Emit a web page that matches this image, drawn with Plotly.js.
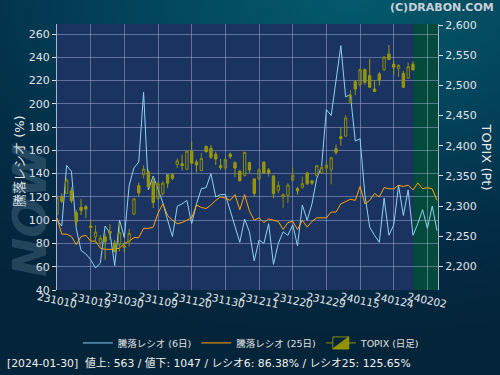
<!DOCTYPE html>
<html>
<head>
<meta charset="utf-8">
<script src="https://cdn.plot.ly/plotly-3.0.1.min.js"></script>
<style>
  html, body { margin: 0; padding: 0; }
  body { width: 500px; height: 375px; overflow: hidden;
    background: radial-gradient(ellipse 120% 90% at 70% 0%, #045a6c 0%, #03455c 35%, #032c46 70%, #04243a 100%); }
  #chart { width: 500px; height: 375px; }
</style>
</head>
<body>
<div id="chart"></div>
<script>
// Trading dates (category axis)
const dates = [
 '2023-10-10','2023-10-11','2023-10-12','2023-10-13','2023-10-16','2023-10-17','2023-10-18','2023-10-19','2023-10-20','2023-10-23',
 '2023-10-24','2023-10-25','2023-10-26','2023-10-27','2023-10-30','2023-10-31','2023-11-01','2023-11-02','2023-11-06','2023-11-07',
 '2023-11-08','2023-11-09','2023-11-10','2023-11-13','2023-11-14','2023-11-15','2023-11-16','2023-11-17','2023-11-20','2023-11-21',
 '2023-11-22','2023-11-24','2023-11-27','2023-11-28','2023-11-29','2023-11-30','2023-12-01','2023-12-04','2023-12-05','2023-12-06',
 '2023-12-07','2023-12-08','2023-12-11','2023-12-12','2023-12-13','2023-12-14','2023-12-15','2023-12-18','2023-12-19','2023-12-20',
 '2023-12-21','2023-12-22','2023-12-25','2023-12-26','2023-12-27','2023-12-28','2023-12-29','2024-01-04','2024-01-05','2024-01-09',
 '2024-01-10','2024-01-11','2024-01-12','2024-01-15','2024-01-16','2024-01-17','2024-01-18','2024-01-19','2024-01-22','2024-01-23',
 '2024-01-24','2024-01-25','2024-01-26','2024-01-29','2024-01-30','2024-01-31','2024-02-01','2024-02-02','2024-02-05','2024-02-06'
];

// 騰落レシオ (6日)
const ratio6 = [
 100, 95,147,142, 93, 74, 71, 66, 59, 63,
  95, 89, 61,100, 85,130,145,150,210,126,
 138,127,115,100, 86,112,114,117, 97,114,
 127,128,140,120,122,122,108, 94, 81,101,
  90, 65, 83, 80, 97, 62, 80, 90, 87, 96,
  78,113,100,114,136,146,195,190,222,250,
 206,208,168,170,122, 94, 87, 81,119, 87,
  96,130,104,126, 87, 97,109, 93,112, 91
];

// 騰落レシオ (25日)
const ratio25 = [
 102, 88, 88, 86, 79, 86, 87, 82, 82, 76,
  75, 75, 75, 76, 80, 82, 85, 85, 93, 93,
  94,106,114,104,100, 97, 98,100,102,113,
 111,110,113,117,120,119,117,122,109,122,
 108,100,102, 98,101,100, 99, 92, 98, 99,
  92,100, 94, 99,102,102,102,107,107,114,
 116,118,117,129,114,117,123,120,128,127,
 127,130,129,130,126,132,127,128,127,117
];

// TOPIX daily OHLC (to 2024-01-30)
const topixOpen = [
 2287,2316,2321,2325,2289,2298,2299,2267,2249,2240,
 2249,2258,2239,2236,2234,2241,2287,2334,2352,2357,
 2341,2313,2321,2352,2352,2369,2370,2361,2391,2373,
 2359,2399,2396,2386,2367,2363,2386,2372,2358,2351,
 2372,2345,2345,2373,2360,2350,2326,2315,2318,2343,
 2329,2331,2355,2342,2351,2355,2363,2360,2395,2415,
 2416,2471,2506,2501,2526,2516,2494,2519,2526,2552,
 2535,2528,2520,2512,2535
];
const topixHigh = [
 2316,2321,2346,2331,2294,2312,2302,2278,2268,2252,
 2254,2270,2244,2272,2241,2262,2313,2339,2368,2360,
 2349,2341,2341,2353,2355,2379,2385,2392,2406,2377,
 2388,2400,2401,2390,2378,2382,2389,2374,2359,2390,
 2374,2346,2363,2373,2363,2351,2341,2321,2338,2364,
 2332,2349,2356,2343,2368,2367,2375,2382,2402,2431,
 2451,2492,2509,2528,2528,2544,2509,2522,2548,2567,
 2541,2535,2524,2538,2540
];
const topixLow = [
 2285,2305,2320,2305,2266,2285,2280,2239,2239,2233,
 2211,2244,2223,2225,2223,2233,2285,2316,2346,2330,
 2297,2310,2316,2330,2343,2363,2359,2360,2370,2356,
 2358,2389,2378,2368,2360,2360,2378,2348,2341,2349,
 2355,2316,2343,2353,2349,2313,2321,2297,2305,2341,
 2319,2329,2335,2335,2349,2353,2352,2336,2385,2400,
 2415,2470,2484,2497,2501,2496,2489,2500,2524,2542,
 2518,2514,2496,2511,2524
];
const topixClose = [
 2314,2308,2343,2309,2274,2293,2295,2265,2257,2247,
 2241,2255,2225,2256,2232,2255,2312,2322,2361,2332,
 2306,2337,2338,2338,2346,2375,2367,2391,2371,2368,
 2379,2390,2381,2378,2364,2377,2382,2363,2342,2389,
 2360,2321,2360,2355,2355,2321,2334,2319,2335,2351,
 2325,2337,2337,2338,2367,2364,2368,2380,2389,2412,
 2446,2484,2494,2526,2505,2497,2490,2509,2547,2543,
 2530,2533,2497,2531,2526
];

// X-axis ticks
const tickDates = ['2023-10-10','2023-10-19','2023-10-30','2023-11-09','2023-11-20','2023-11-30',
                   '2023-12-11','2023-12-20','2023-12-29','2024-01-15','2024-01-24','2024-02-02'];
const tickText  = ['231010','231019','231030','231109','231120','231130',
                   '231211','231220','231229','240115','240124','240202'];
const leftTicks = [40,60,80,100,120,140,160,180,200,220,240,260];
const rightTicks = [2200,2250,2300,2350,2400,2450,2500,2550,2600];

const FONT = 'DejaVu Sans, Noto Sans CJK JP, sans-serif';
const candleDates = dates.slice(0, topixOpen.length);

const traces = [
  {
    type: 'candlestick', name: 'TOPIX (日足)', legendrank: 3,
    x: candleDates, open: topixOpen, high: topixHigh, low: topixLow, close: topixClose,
    xaxis: 'x', yaxis: 'y2',
    increasing: { line: { color: '#8a8a08', width: 1 }, fillcolor: 'rgba(0,0,0,0)' },
    decreasing: { line: { color: '#9a9a0c', width: 1 }, fillcolor: '#929200' },
    whiskerwidth: 0
  },
  {
    type: 'scatter', mode: 'lines', name: '騰落レシオ (6日)', legendrank: 1,
    x: dates, y: ratio6, xaxis: 'x', yaxis: 'y',
    line: { color: '#8dd2f2', width: 1 }
  },
  {
    type: 'scatter', mode: 'lines', name: '騰落レシオ (25日)', legendrank: 2,
    x: dates, y: ratio25, xaxis: 'x', yaxis: 'y',
    line: { color: '#ffa500', width: 1 }
  }
];

const gridCol = 'rgba(190,200,235,0.42)';
const annotations = [
  { text: '(C)DRABON.COM', xref: 'paper', yref: 'paper', x: 1.1522, y: 1.0602,
    xanchor: 'right', yanchor: 'middle', showarrow: false,
    font: { family: FONT, size: 11, color: '#c8d0d8', weight: 'bold' } },
  { text: '騰落レシオ (%)', xref: 'paper', yref: 'paper', x: -0.0971, y: 0.485,
    textangle: -90, showarrow: false, xanchor: 'center', yanchor: 'middle',
    font: { family: FONT, size: 13, color: '#e8ecf0' } },
  { text: 'TOPIX (Pt)', xref: 'paper', yref: 'paper', x: 1.1273, y: 0.5,
    textangle: 90, showarrow: false, xanchor: 'center', yanchor: 'middle',
    font: { family: FONT, size: 13, color: '#e8ecf0' } },
  { text: '[2024-01-30]  値上: 563 / 値下: 1047 / レシオ6: 86.38% / レシオ25: 125.65%',
    xref: 'paper', yref: 'paper', x: -0.1365, y: -0.278, xanchor: 'left', yanchor: 'middle',
    showarrow: false, font: { family: FONT, size: 10.8, color: '#f0f0f0' } },
  { text: 'NOW', xref: 'paper', yref: 'paper', x: -0.074, y: 0.30, textangle: -90,
    showarrow: false, xanchor: 'center', yanchor: 'middle',
    font: { family: FONT, size: 47, color: 'rgba(120,150,170,0.30)', weight: 'bold', style: 'italic' } }
];
tickDates.forEach((d, k) => {
  annotations.push({ text: tickText[k], xref: 'x', yref: 'paper', x: d, y: -0.038,
    textangle: 12, showarrow: false, xanchor: 'center', yanchor: 'middle',
    font: { family: FONT, size: 10.5, color: '#e0e4ea' } });
});

const layout = {
  width: 500, height: 375,
  margin: { l: 57, r: 62, t: 24, b: 85, pad: 0 },
  paper_bgcolor: 'rgba(0,0,0,0)',
  plot_bgcolor: '#1b3361',
  font: { family: FONT, color: '#e0e4ea', size: 11 },
  showlegend: true,
  hovermode: false,
  legend: { orientation: 'h', x: 0.51, xanchor: 'center', y: -0.199, yanchor: 'middle',
            font: { family: FONT, size: 9.5, color: '#e0e0e0' }, bgcolor: 'rgba(0,0,0,0)',
            itemwidth: 30, traceorder: 'normal' },
  xaxis: {
    type: 'category', categoryorder: 'array', categoryarray: dates,
    range: [0, 79.2], tickvals: tickDates, showticklabels: false,
    showgrid: true, gridcolor: gridCol, gridwidth: 1, ticks: '',
    zeroline: false, showline: false, rangeslider: { visible: false }, fixedrange: true
  },
  yaxis: {
    range: [40, 268.6], tickvals: leftTicks, showgrid: true, gridcolor: gridCol, gridwidth: 1,
    ticks: 'outside', ticklen: 4, tickcolor: '#d8dde8', showline: true, linecolor: '#aab6cc',
    zeroline: false, tickfont: { family: FONT, size: 11, color: '#e0e4ea' }
  },
  yaxis2: {
    overlaying: 'y', side: 'right', range: [2161, 2601.7], tickvals: rightTicks, tickformat: ',d',
    showgrid: false, ticks: 'outside', ticklen: 4, tickcolor: '#d8dde8', showline: true,
    linecolor: '#aab6cc', zeroline: false, tickfont: { family: FONT, size: 11, color: '#e0e4ea' }
  },
  shapes: [
    { type: 'rect', xref: 'x', yref: 'paper', x0: candleDates.length - 1 + 0.1, x1: 79.2, y0: 0, y1: 1,
      fillcolor: '#034a3c', line: { width: 0 }, layer: 'below' }
  ],
  annotations: annotations
};

Plotly.newPlot('chart', traces, layout, { staticPlot: true, displayModeBar: false });
</script>
</body>
</html>
